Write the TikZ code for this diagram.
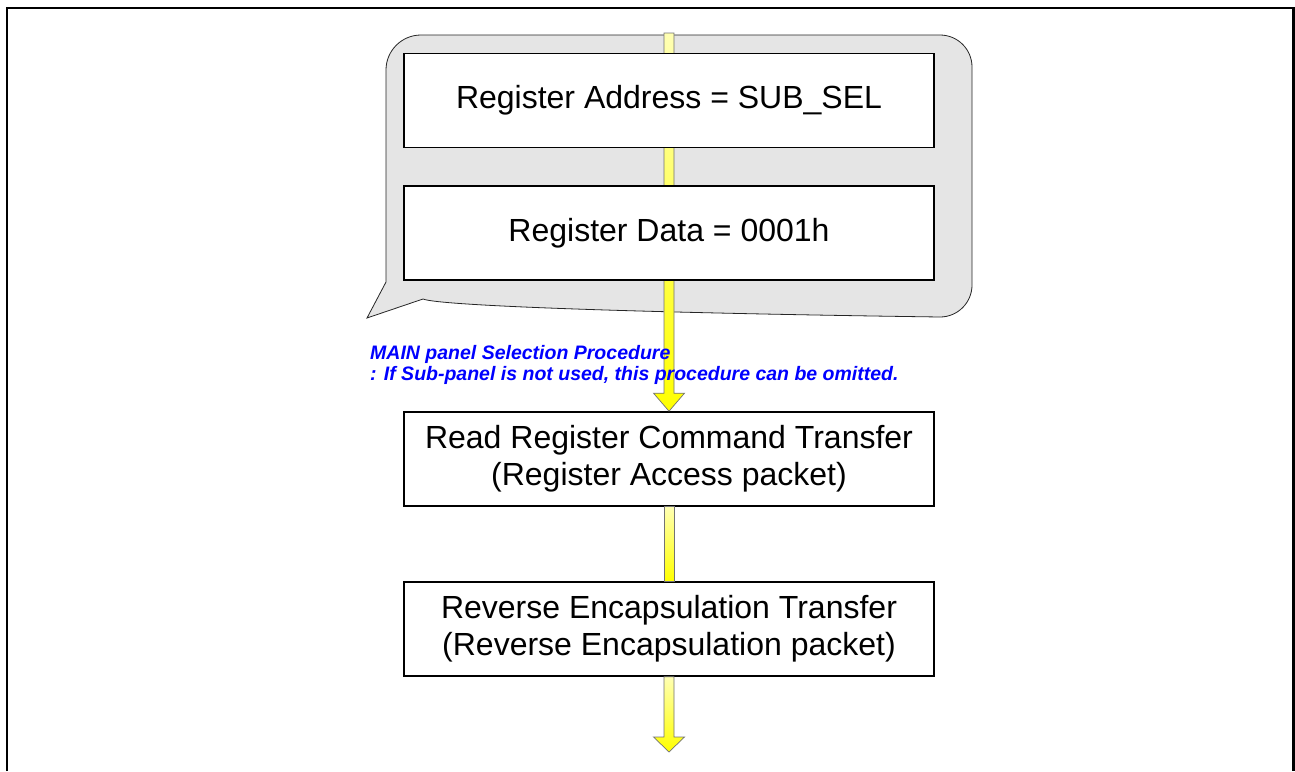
\documentclass[tikz,border=0pt]{standalone}
\usepackage{fontspec}
\setmainfont{Liberation Sans}
\usetikzlibrary{calc}
\begin{document}
\begin{tikzpicture}[x=1pt,y=-1pt,
  stepbox/.style={draw=black,line width=1.6pt,fill=white,minimum width=530pt,minimum height=94pt,inner sep=0pt,align=center,font=\fontsize{32}{36.8}\selectfont},
  bubble/.style={fill=black!10,draw=black!85,line width=0.8pt},
  yarr/.style={top color=yellow!30!white,bottom color=yellow,draw=black!55,line width=0.7pt},
  note/.style={text=blue,inner sep=0pt,anchor=base west,font=\fontsize{19.5}{20.5}\selectfont\bfseries\itshape},
  frame/.style={line width=2.3pt,draw=black}]
\useasboundingbox (0,0) rectangle (1295,771);
% page frame
\draw[frame] (7,771) -- (7,8) -- (1293.5,8) -- (1293.5,771);
% callout bubble
\path[bubble] (386,282) -- (367,318) -- (423,299)
  .. controls (440,306) and (650,313) .. (940,317)
  arc[start angle=90,end angle=0,radius=32] -- (972,67)
  arc[start angle=0,end angle=-90,radius=32] -- (421,35)
  arc[start angle=-90,end angle=-180,radius=35] -- cycle;
% nodes
\coordinate (a1top) at (669,33);
\coordinate (a3tip) at (669,752);
\node[stepbox] (b3) at (669,459) {Read Register Command Transfer\\(Register Access packet)};
\node[stepbox] (b4) at (669,629) {Reverse Encapsulation Transfer\\(Reverse Encapsulation packet)};
% arrow 1 (runs behind boxes 1 and 2)
\path[yarr] ($(a1top)+(-5,0)$) -- ($(a1top)+(5,0)$) -- ($(b3.north)+(5,-18)$) -- ($(b3.north)+(15.5,-18)$) -- (b3.north) -- ($(b3.north)+(-15.5,-18)$) -- ($(b3.north)+(-5,-18)$) -- cycle;
\node[stepbox] (b1) at (669,100.5) {Register Address = SUB\_SEL};
\node[stepbox] (b2) at (669,233) {Register Data = 0001h};
% arrow 2
\path[yarr] ($(b3.south)+(-5,0)$) rectangle ($(b4.north)+(5,0)$);
% arrow 3
\path[yarr] ($(b4.south)+(-5,0)$) -- ($(b4.south)+(5,0)$) -- ($(a3tip)+(5,-15)$) -- ($(a3tip)+(15.5,-15)$) -- (a3tip) -- ($(a3tip)+(-15.5,-15)$) -- ($(a3tip)+(-5,-15)$) -- cycle;
% note
\node[note] (n1) at (370,359.5) {MAIN panel Selection Procedure};
\node[note] (n2) at (370,380) {: If Sub-panel is not used, this procedure can be omitted.};
\end{tikzpicture}
\end{document}
